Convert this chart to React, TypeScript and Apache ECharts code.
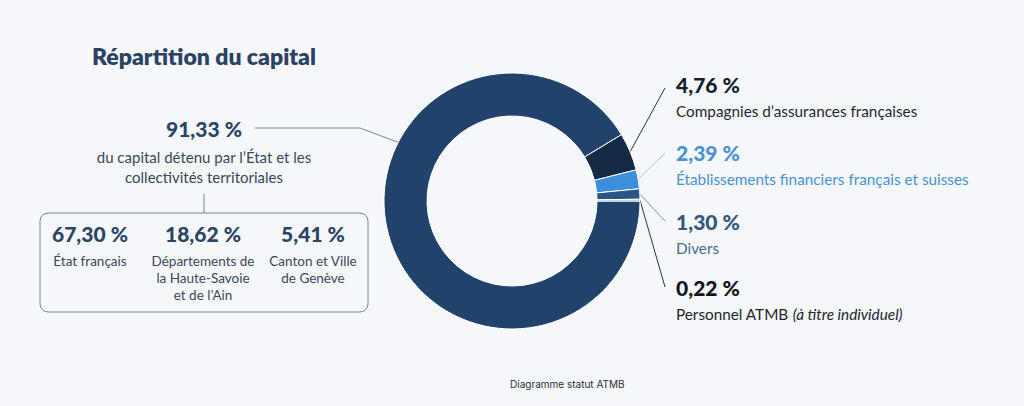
import React, { useEffect, useRef } from "react";
import * as echarts from "echarts";

const sliceNames = [
  "du capital détenu par l’État et les\ncollectivités territoriales",
  "Compagnies d’assurances françaises",
  "Établissements financiers français et suisses",
  "Divers",
  "Personnel ATMB",
];
const sliceValues = [91.33, 4.76, 2.39, 1.3, 0.22];
const sliceColors = ["#21426a", "#152a45", "#3d8fdc", "#2a5587", "#8fa3b8"];
const lineColors = ["#7a8694", "#2a3440", "#a9c3da", "#8195aa", "#2a3440"];

const subValues = [67.3, 18.62, 5.41];
const subLabels = [
  "État français",
  "Départements de\nla Haute-Savoie\net de l’Ain",
  "Canton et Ville\nde Genève",
];

const titleText = "Répartition du capital";
const footerText = "Diagramme statut ATMB";

const FONT = "Lato, 'Open Sans', sans-serif";
const fmt = (v: number) => v.toFixed(2).replace(".", ",") + " %";

export default function App() {
  const ref = useRef<HTMLDivElement>(null);
  useEffect(() => {
    if (!ref.current) return;
    const chart = echarts.init(ref.current, null, { renderer: "svg" });
    const cx = 512, cy = 201, rIn = 85, rOut = 128;

    const rightTops = [71, 139, 208, 274];
    const rightEnds = [88, 153, 221, 287];

    const labelStyles = [
      { p: "#2b4466", d: "#3b4858" },
      { p: "#141f2c", d: "#1e2833" },
      { p: "#4a92d4", d: "#4a92d4" },
      { p: "#34577f", d: "#4d6a8c" },
      { p: "#111418", d: "#22262b" },
    ];

    const data = sliceValues.map((v, i) => ({
      value: v,
      name: sliceNames[i],
      itemStyle: { color: sliceColors[i] },
      labelLine: { lineStyle: { color: lineColors[i], width: 1 } },
      label: {
        align: i === 0 ? "center" : "left",
        rich: {
          p: {
            fontFamily: FONT,
            fontWeight: 900,
            fontSize: 21,
            color: labelStyles[i].p,
            lineHeight: i === 0 ? 38 : 27,
            align: i === 0 ? "center" : "left",
          },
          d: {
            fontFamily: FONT,
            fontSize: i === 0 ? 15 : 15.3,
            color: labelStyles[i].d,
            lineHeight: i === 0 ? 20 : 26,
            align: i === 0 ? "center" : "left",
          },
          i: {
            fontFamily: FONT,
            fontSize: 15.3,
            fontStyle: "italic",
            color: labelStyles[i].d,
            lineHeight: 26,
          },
        },
      },
    }));

    const graphics: any[] = [
      {
        type: "text",
        left: 92,
        top: 44,
        style: {
          text: titleText,
          fontFamily: FONT,
          fontWeight: 800,
          fontSize: 23,
          fill: "#2b4262",
        },
      },
      {
        type: "line",
        shape: { x1: 204, y1: 194, x2: 204, y2: 213 },
        style: { stroke: "#7a8694", lineWidth: 1 },
      },
      {
        type: "rect",
        shape: { x: 40, y: 213, width: 328, height: 99, r: 8 },
        style: { fill: "none", stroke: "#7a8694", lineWidth: 1 },
      },
      {
        type: "text",
        x: 510,
        y: 384,
        style: {
          text: footerText,
          fontFamily: "Inter, 'DejaVu Sans', sans-serif",
          fontSize: 10,
          fill: "#2a2f38",
          align: "left",
          verticalAlign: "middle",
        },
      },
    ];
    const colX = [90, 203, 313];
    subValues.forEach((v, i) => {
      graphics.push({
        type: "text",
        x: colX[i],
        y: 233,
        style: {
          text: fmt(v),
          fontFamily: FONT,
          fontWeight: 900,
          fontSize: 21,
          fill: "#2b4466",
          align: "center",
          verticalAlign: "middle",
        },
      });
      graphics.push({
        type: "text",
        x: colX[i],
        y: 252,
        style: {
          text: subLabels[i],
          fontFamily: FONT,
          fontSize: 13.5,
          lineHeight: 17,
          fill: "#3b4858",
          align: "center",
          verticalAlign: "top",
        },
      });
    });

    chart.setOption({
      animation: false,
      backgroundColor: "#f5f7fa",
      graphic: graphics,
      series: [
        {
          type: "pie",
          center: [cx, cy],
          radius: [rIn, rOut],
          startAngle: 0,
          clockwise: true,
          avoidLabelOverlap: false,
          silent: true,
          itemStyle: { borderColor: "#ffffff", borderWidth: 1 },
          label: {
            show: true,
            position: "outside",
            formatter: (p: any) => {
              const i = p.dataIndex;
              const pct = `{p|${fmt(p.value)}}`;
              if (i === 0) {
                return pct + "\n" + p.name.split("\n").map((s: string) => `{d|${s}}`).join("\n");
              }
              if (i === 4) return pct + "\n{d|" + p.name + " }{i|(à titre individuel)}";
              return pct + "\n{d|" + p.name + "}";
            },
          },
          labelLine: { show: true, length: 10, length2: 10 },
          labelLayout: (params: any) => {
            const i = params.dataIndex;
            const start = params.labelLinePoints && params.labelLinePoints[0];
            if (i === 0) {
              return {
                x: 204,
                y: 109,
                align: "center",
                verticalAlign: "top",
                labelLinePoints: [[400, 143], [360, 128], [255, 128]],
              };
            }
            const s = start ? [start[0], start[1]] : [cx + rOut, cy];
            return {
              x: 676,
              y: rightTops[i - 1],
              align: "left",
              verticalAlign: "top",
              labelLinePoints: [s, [665, rightEnds[i - 1]], [665, rightEnds[i - 1]]],
            };
          },
          data,
        },
      ],
    });
    return () => chart.dispose();
  }, []);
  return (
    <div
      ref={ref}
      style={{ position: "absolute", left: 0, top: 0, width: 1024, height: 406 }}
    />
  );
}
